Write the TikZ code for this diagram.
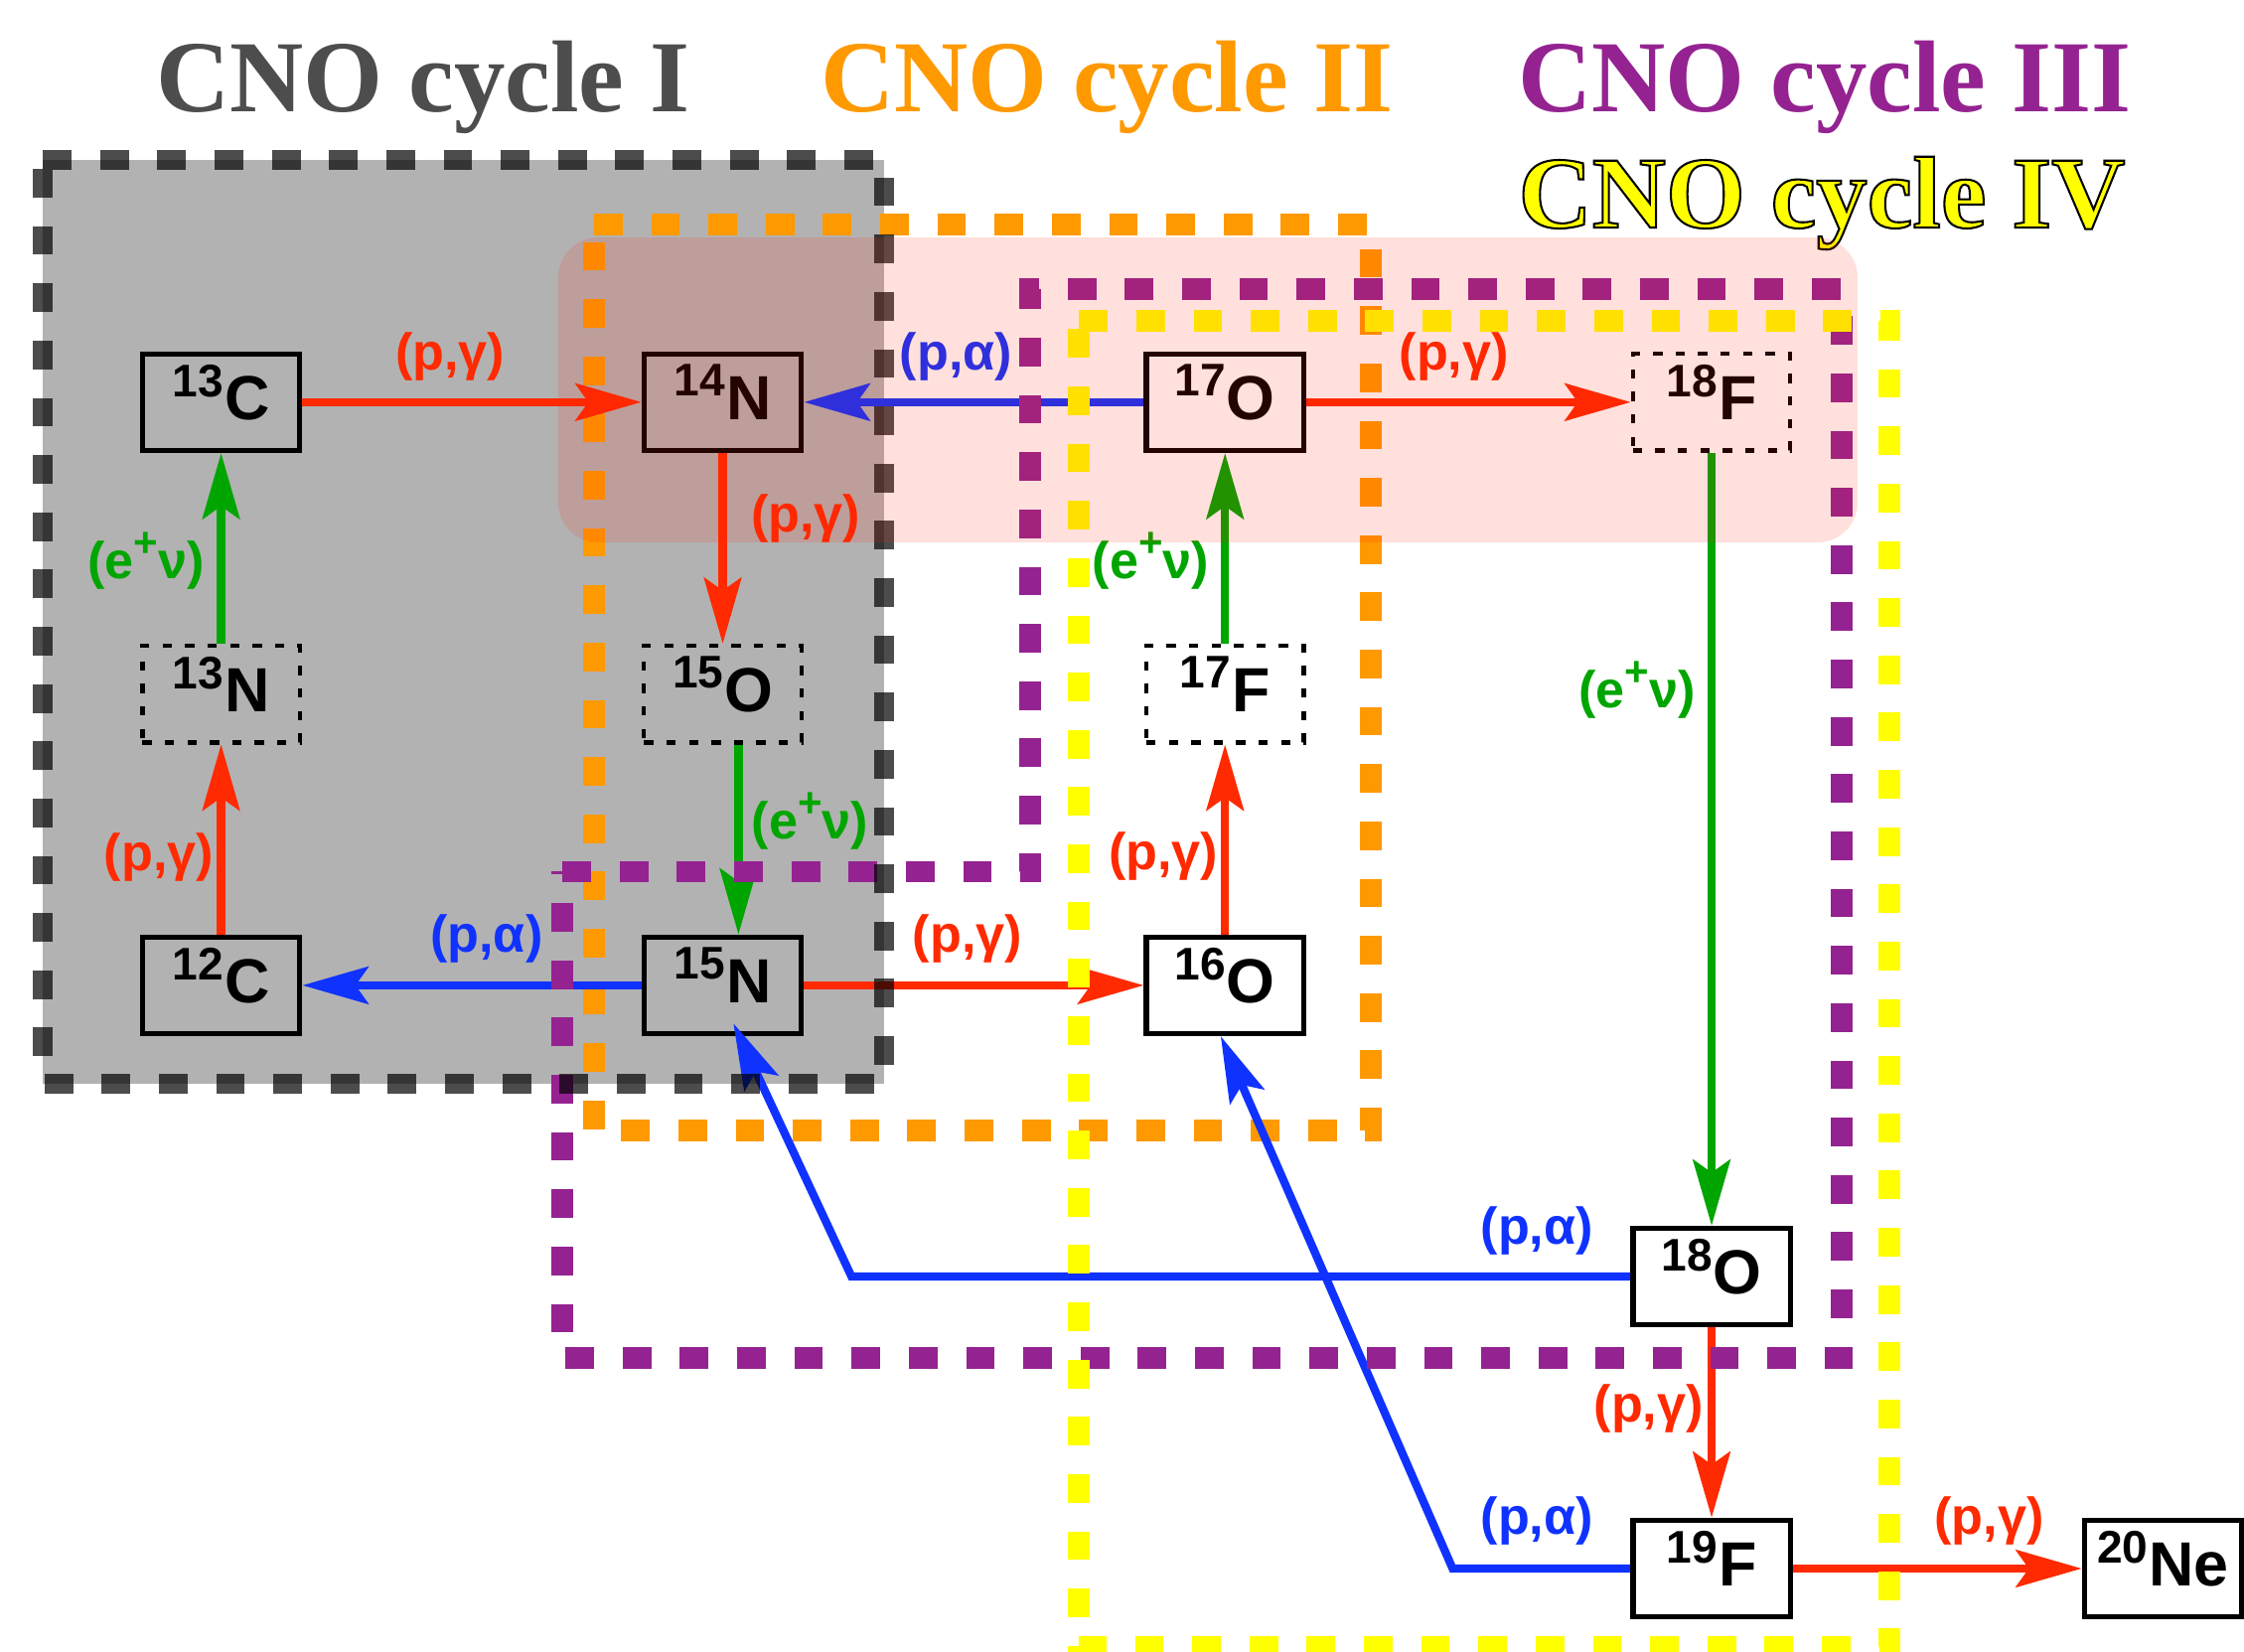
\documentclass[tikz,border=0pt]{standalone}
\usepackage{fontspec}
\usetikzlibrary{arrows.meta,calc}
\setmainfont{Liberation Serif}
\newfontfamily\sansfam{Liberation Sans}
\newfontfamily\ivfam{Liberation Serif Bold}[FakeBold=2]
\definecolor{cred}{RGB}{255,42,0}
\definecolor{cblue}{RGB}{16,50,255}
\definecolor{cgreen}{RGB}{0,165,0}
\definecolor{corange}{RGB}{255,153,0}
\definecolor{cpurple}{RGB}{148,35,145}
\definecolor{cyellow}{RGB}{255,255,0}
\definecolor{cpink}{RGB}{255,30,0}
\definecolor{cgraytxt}{RGB}{77,77,77}
\newcommand\nucfont{\sansfam\bfseries\fontsize{12.4pt}{12.4pt}\selectfont}
\newcommand\reacfont{\sansfam\bfseries\fontsize{10.3pt}{12pt}\selectfont}
\newcommand\ttlfont{\rmfamily\bfseries\fontsize{20.3pt}{22pt}\selectfont}
\newcommand\ivtitlefont{\ivfam\mdseries\fontsize{20.3pt}{22pt}\selectfont}
\newcommand\iso[2]{\raisebox{4.6pt}{\fontsize{9.1pt}{9.1pt}\selectfont #1}\kern0.2pt #2}
\newcommand\ep{(e\raisebox{0.42em}{\fontsize{8.3pt}{8.3pt}\selectfont +}ν)}
\tikzset{
  nuc/.style={draw=black, line width=0.37mm, minimum width=11mm, minimum height=6.75mm,
    inner sep=0pt, text depth=4pt, font=\nucfont},
  nucd/.style={nuc, line width=0.3mm, dash pattern=on 0.65mm off 0.92mm},
  rarr/.style={line width=0.57mm, -{Stealth[length=4.6mm,width=2.6mm,inset=0.9mm]}},
  reac/.style={font=\reacfont, inner sep=0pt},
  region/.style={line width=1.5mm, dash pattern=on 2mm off 2mm},
  ttl/.style={font=\ttlfont, anchor=base, inner sep=0pt},
}
\begin{document}
\begin{tikzpicture}[x=0.1mm,y=-0.1mm]
\useasboundingbox (0,0) rectangle (1568,1154);
% cycle I background
\fill[black, fill opacity=0.3] (30,112) rectangle (618,757);
% cycle II region
\draw[region, corange] (415,157) -- (958,157) -- (958,790) -- (415,790) -- cycle;
% nuclei
\node[nuc]  (C13) at (154.5,281) {\iso{13}{C}};
\node[nuc]  (N14) at (505,281) {\iso{14}{N}};
\node[nuc]  (O17) at (856,281) {\iso{17}{O}};
\node[nucd] (F18) at (1196,281) {\iso{18}{F}};
\node[nucd] (N13) at (154.5,485) {\iso{13}{N}};
\node[nucd] (O15) at (505,485) {\iso{15}{O}};
\node[nucd] (F17) at (856,485) {\iso{17}{F}};
\node[nuc]  (C12) at (154.5,688.5) {\iso{12}{C}};
\node[nuc]  (N15) at (505,688.5) {\iso{15}{N}};
\node[nuc]  (O16) at (856,688.5) {\iso{16}{O}};
\node[nuc]  (O18) at (1196,892) {\iso{18}{O}};
\node[nuc]  (F19) at (1196,1096) {\iso{19}{F}};
\node[nuc]  (Ne20) at (1511.5,1096) {\iso{20}{Ne}};
\coordinate (b1) at (595,892);
\coordinate (b2) at (1015,1096);
% reactions
\draw[rarr, cred] (C13) -- (N14);
\draw[rarr, cblue] (O17) -- (N14);
\draw[rarr, cred] (O17) -- (F18);
\draw[rarr, cred] (N14) -- (O15);
\draw[rarr, cgreen] (N13) -- (C13);
\draw[rarr, cred] (C12) -- (N13);
\draw[rarr, cgreen] ($(O15.south)+(11,0)$) -- ($(N15.north)+(11,0)$);
\draw[rarr, cblue] (N15) -- (C12);
\draw[rarr, cred] (N15) -- (O16);
\draw[rarr, cred] (O16) -- (F17);
\draw[rarr, cgreen] (F17) -- (O17);
\draw[rarr, cgreen] (F18) -- (O18);
\draw[rarr, cblue] (O18.west) -- (b1) -- ($(N15.south)+(7.5,-9)$);
\draw[rarr, cred] (O18) -- (F19);
\draw[rarr, cblue] (F19.west) -- (b2) -- ($(O16.south)+(-3,0)$);
\draw[rarr, cred] (F19) -- (Ne20);
% reaction labels
\node[reac, text=cred]   (l1)  at (314.5,249) {(p,γ)};
\node[reac, text=cblue]  (l2)  at (668,249) {(p,α)};
\node[reac, text=cred]   (l3)  at (1016,249) {(p,γ)};
\node[reac, text=cred]   (l4)  at (563,362) {(p,γ)};
\node[reac, text=cgreen] (l5)  at (102,392) {\ep};
\node[reac, text=cgreen] (l6)  at (804,392) {\ep};
\node[reac, text=cgreen] (l7)  at (566,574) {\ep};
\node[reac, text=cred]   (l8)  at (111,599) {(p,γ)};
\node[reac, text=cblue]  (l9)  at (340,656) {(p,α)};
\node[reac, text=cred]   (l10) at (676,656) {(p,γ)};
\node[reac, text=cred]   (l11) at (813,598) {(p,γ)};
\node[reac, text=cgreen] (l12) at (1144,482) {\ep};
\node[reac, text=cblue]  (l13) at (1074,860) {(p,α)};
\node[reac, text=cred]   (l14) at (1152,984) {(p,γ)};
\node[reac, text=cblue]  (l15) at (1074,1063) {(p,α)};
\node[reac, text=cred]   (l16) at (1390,1063) {(p,γ)};
% cycle III and IV regions
\draw[region, cpurple] (393,609) -- (720,609) -- (720,202) -- (1287,202) -- (1287,949) -- (393,949) -- cycle;
\draw[region, cyellow] (754,224) -- (1320,224) -- (1320,1151) -- (754,1151) -- cycle;
% cycle I border
\draw[black, draw opacity=0.7, line width=1.4mm, dash pattern=on 2mm off 2mm] (30,112) -- (618,112) -- (618,757) -- (30,757) -- cycle;
% titles
\node[ttl, text=cgraytxt] (t1) at (295.5,78) {CNO cycle I};
\node[ttl, text=corange]  (t2) at (773.5,78) {CNO cycle II};
\node[ttl, text=cpurple]  (t3) at (1275,78) {CNO cycle III};
\node[anchor=base, inner sep=0pt, font=\ivtitlefont] (t4) at (1273,159)
  {\special{pdf:bcolor [1 1 0] [0 0 0]}CNO cycle IV\special{pdf:ecolor}};
% pink overlay
\fill[cpink, fill opacity=0.137, rounded corners=2.8mm] (390,166) rectangle (1298,379);
\end{tikzpicture}
\end{document}
